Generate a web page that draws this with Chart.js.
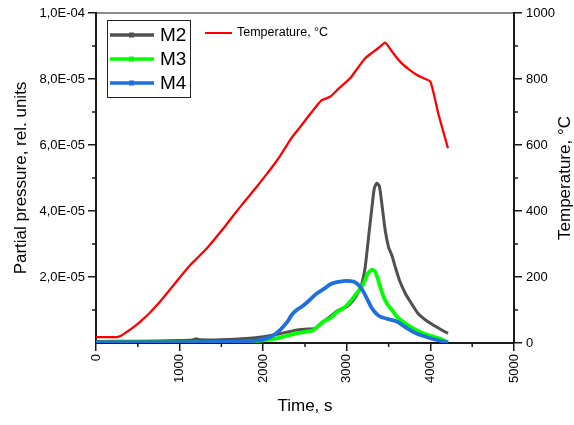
<!DOCTYPE html>
<html>
<head>
<meta charset="utf-8">
<script src="https://cdn.jsdelivr.net/npm/chart.js@4.4.1/dist/chart.umd.min.js"></script>
<style>
  body { margin: 0; background: #fff; }
  #wrap { width: 574px; height: 425px; }
</style>
</head>
<body>
<div id="wrap"><canvas id="chart" width="574" height="425"></canvas></div>
<script>
// datos
const seriesNames = ['M2', 'M3', 'M4'];
const tempName = 'Temperature, °C';

const tempTime = [0, 250, 300, 370, 450, 530, 630, 730, 830, 930, 1030, 1130, 1230, 1330, 1430, 1530, 1630, 1730, 1830, 1930, 2030, 2130, 2230, 2330, 2440, 2550, 2650, 2700, 2800, 2900, 3040, 3130, 3220, 3320, 3400, 3460, 3550, 3640, 3740, 3840, 3920, 4000, 4100, 4210];
const tempValues = [18, 18, 22, 34, 48, 65, 88, 115, 145, 176, 207, 237, 262, 288, 318, 349, 382, 414, 445, 476, 508, 541, 578, 618, 654, 690, 722, 736, 746, 770, 802, 833, 863, 883, 898, 910, 880, 852, 830, 812, 802, 792, 690, 590];

const m2Time = [0, 500, 1000, 1150, 1200, 1250, 1500, 1800, 2000, 2200, 2390, 2500, 2620, 2720, 2800, 2880, 2950, 3000, 3080, 3140, 3180, 3220, 3260, 3300, 3330, 3360, 3390, 3420, 3460, 3500, 3540, 3580, 3630, 3700, 3760, 3850, 3950, 4050, 4130, 4210];
const m2Values = [0.45e-6, 0.55e-6, 0.75e-6, 0.9e-6, 1.3e-6, 0.95e-6, 1.0e-6, 1.4e-6, 1.9e-6, 2.8e-6, 3.9e-6, 4.2e-6, 4.4e-6, 6.5e-6, 8.0e-6, 9.6e-6, 10.5e-6, 11e-6, 13e-6, 15.5e-6, 18e-6, 23e-6, 32e-6, 41e-6, 47e-6, 48.4e-6, 47.5e-6, 42e-6, 34e-6, 29e-6, 26.5e-6, 23e-6, 19e-6, 15e-6, 12.5e-6, 9e-6, 6.8e-6, 5.2e-6, 4e-6, 2.9e-6];

const m3Time = [0, 1000, 1600, 1800, 2000, 2160, 2300, 2400, 2500, 2600, 2720, 2800, 2880, 2960, 3040, 3100, 3160, 3200, 3250, 3300, 3340, 3370, 3400, 3440, 3480, 3540, 3600, 3680, 3760, 3840, 3920, 4000, 4120, 4210];
const m3Values = [0.15e-6, 0.15e-6, 0.2e-6, 0.4e-6, 0.8e-6, 1.4e-6, 2.3e-6, 2.9e-6, 3.4e-6, 3.9e-6, 6.5e-6, 7.5e-6, 9.3e-6, 10.5e-6, 12.5e-6, 14.5e-6, 16.5e-6, 18e-6, 21e-6, 22.2e-6, 21.6e-6, 19.5e-6, 17e-6, 14e-6, 12e-6, 10e-6, 8e-6, 6.3e-6, 5e-6, 3.8e-6, 2.9e-6, 2.2e-6, 1.3e-6, 0.2e-6];

const m4Time = [0, 1000, 1500, 1800, 1950, 2040, 2120, 2200, 2260, 2300, 2340, 2400, 2460, 2520, 2580, 2640, 2720, 2820, 2920, 3000, 3080, 3120, 3160, 3200, 3250, 3300, 3350, 3400, 3500, 3600, 3660, 3720, 3800, 3880, 3980, 4080, 4210];
const m4Values = [0.2e-6, 0.2e-6, 0.3e-6, 0.5e-6, 0.9e-6, 1.4e-6, 2.3e-6, 3.9e-6, 5.5e-6, 6.8e-6, 8.5e-6, 10e-6, 11e-6, 12.2e-6, 13.6e-6, 15e-6, 16.3e-6, 18e-6, 18.6e-6, 18.8e-6, 18.6e-6, 18e-6, 17e-6, 15.5e-6, 13e-6, 10.5e-6, 9e-6, 8e-6, 7.2e-6, 6.5e-6, 5.5e-6, 4.5e-6, 3.3e-6, 2.4e-6, 1.6e-6, 0.9e-6, 0.1e-6];

const xTicks = [0, 1000, 2000, 3000, 4000, 5000];
const pressureTicks = [2e-5, 4e-5, 6e-5, 8e-5, 1e-4];
const tempTicks = [0, 200, 400, 600, 800, 1000];

const FONT = '"Liberation Sans", Arial, sans-serif';
const AXIS = '#1a1a1a';

const toPoints = (xs, ys) => xs.map((x, i) => ({ x: x, y: ys[i] }));

// formato 2,0E-05
function sciLabel(v) {
  const parts = v.toExponential(1).split('e');
  const e = parseInt(parts[1], 10);
  return parts[0].replace('.', ',') + 'E' + (e < 0 ? '-' : '+') + String(Math.abs(e)).padStart(2, '0');
}

// ticks menores, marco superior y titulo derecho
const frameAndMinor = {
  id: 'frameAndMinor',
  afterDraw(chart) {
    const { ctx, chartArea: a, scales } = chart;
    ctx.save();
    ctx.strokeStyle = AXIS;
    ctx.lineWidth = 1.5;
    ctx.beginPath();
    for (let v = 500; v < 5000; v += 1000) {
      const px = scales.x.getPixelForValue(v);
      ctx.moveTo(px, a.bottom); ctx.lineTo(px, a.bottom + 4);
    }
    for (let v = 1e-5; v < 1e-4; v += 2e-5) {
      const py = scales.y.getPixelForValue(v);
      ctx.moveTo(a.left - 4, py); ctx.lineTo(a.left, py);
    }
    for (let v = 100; v < 1000; v += 200) {
      const py = scales.y1.getPixelForValue(v);
      ctx.moveTo(a.right, py); ctx.lineTo(a.right + 4, py);
    }
    ctx.stroke();
    ctx.lineWidth = 1.2;
    ctx.beginPath();
    ctx.moveTo(a.left, a.top); ctx.lineTo(a.right, a.top);
    ctx.stroke();

    // el titulo derecho se lee de abajo hacia arriba
    ctx.translate(565, (a.top + a.bottom) / 2);
    ctx.rotate(-Math.PI / 2);
    ctx.fillStyle = '#000';
    ctx.font = '17px ' + FONT;
    ctx.textAlign = 'center';
    ctx.textBaseline = 'middle';
    ctx.fillText(tempName, 0, 0);
    ctx.restore();
  }
};

// leyendas dibujadas a mano
const legends = {
  id: 'legends',
  afterDatasetsDraw(chart) {
    const { ctx, chartArea: a } = chart;
    const sets = chart.data.datasets;
    ctx.save();
    const bx = a.left + 11, by = a.top + 7;
    ctx.strokeStyle = '#222';
    ctx.lineWidth = 1;
    ctx.strokeRect(bx + 0.5, by + 0.5, 83, 77);
    ctx.font = '19px ' + FONT;
    ctx.textBaseline = 'middle';
    sets.filter(d => d.yAxisID === 'y').forEach((d, i) => {
      const y = by + 15 + i * 24;
      ctx.strokeStyle = d.borderColor;
      ctx.lineWidth = 3.5;
      ctx.beginPath(); ctx.moveTo(bx + 3, y); ctx.lineTo(bx + 47, y); ctx.stroke();
      ctx.fillStyle = d.borderColor;
      ctx.fillRect(bx + 22, y - 2.5, 5, 5);
      ctx.fillStyle = '#000';
      ctx.fillText(d.label, bx + 53, y + 1);
    });
    const t = sets.find(d => d.yAxisID === 'y1');
    const ty = a.top + 20;
    ctx.strokeStyle = t.borderColor;
    ctx.lineWidth = 2;
    ctx.beginPath(); ctx.moveTo(205, ty); ctx.lineTo(232, ty); ctx.stroke();
    ctx.fillStyle = '#000';
    ctx.font = '12.5px ' + FONT;
    ctx.fillText(t.label, 237, ty);
    ctx.restore();
  }
};

const grid = { drawOnChartArea: false, color: AXIS, lineWidth: 1.5, tickLength: 8 };
const border = { display: true, color: AXIS, width: 2 };
const tickFont = { family: FONT, size: 13 };
const titleFont = { family: FONT, size: 17, lineHeight: 1 };

new Chart(document.getElementById('chart'), {
  type: 'line',
  data: {
    datasets: [
      { label: tempName, data: toPoints(tempTime, tempValues), yAxisID: 'y1', borderColor: '#ff0000', borderWidth: 2.3, order: 0 },
      { label: seriesNames[0], data: toPoints(m2Time, m2Values), yAxisID: 'y', borderColor: '#505050', borderWidth: 3, order: 3 },
      { label: seriesNames[1], data: toPoints(m3Time, m3Values), yAxisID: 'y', borderColor: '#00ff00', borderWidth: 3.8, order: 2 },
      { label: seriesNames[2], data: toPoints(m4Time, m4Values), yAxisID: 'y', borderColor: '#1f6fdd', borderWidth: 3.8, order: 1 }
    ]
  },
  options: {
    responsive: false,
    animation: false,
    elements: { point: { radius: 0 }, line: { tension: 0.2, fill: false } },
    layout: { padding: { top: 13, left: 0, right: 0, bottom: 0 } },
    plugins: { legend: { display: false }, tooltip: { enabled: false } },
    scales: {
      x: {
        type: 'linear', min: 0, max: 5000,
        afterBuildTicks: s => { s.ticks = xTicks.map(v => ({ value: v })); },
        afterFit: s => { s.height = 82; },
        grid: grid, border: border,
        ticks: { font: tickFont, color: '#000', minRotation: 90, maxRotation: 90, autoSkip: false, padding: 3, callback: v => String(v) },
        title: { display: true, text: 'Time, s', color: '#000', font: titleFont, padding: { bottom: 10 } }
      },
      y: {
        position: 'left', min: 0, max: 1e-4,
        afterBuildTicks: s => { s.ticks = pressureTicks.map(v => ({ value: v })); },
        afterFit: s => { s.width = 96; },
        grid: grid, border: border,
        ticks: { font: tickFont, color: '#000', padding: 3, callback: v => sciLabel(v) },
        title: { display: true, text: 'Partial pressure, rel. units', color: '#000', font: titleFont, padding: { top: 13 } }
      },
      y1: {
        position: 'right', min: 0, max: 1000,
        afterBuildTicks: s => { s.ticks = tempTicks.map(v => ({ value: v })); },
        afterFit: s => { s.width = 60; },
        grid: grid, border: border,
        ticks: { font: tickFont, color: '#000', padding: 4, callback: v => String(v) },
        title: { display: false }
      }
    }
  },
  plugins: [frameAndMinor, legends]
});
</script>
</body>
</html>
